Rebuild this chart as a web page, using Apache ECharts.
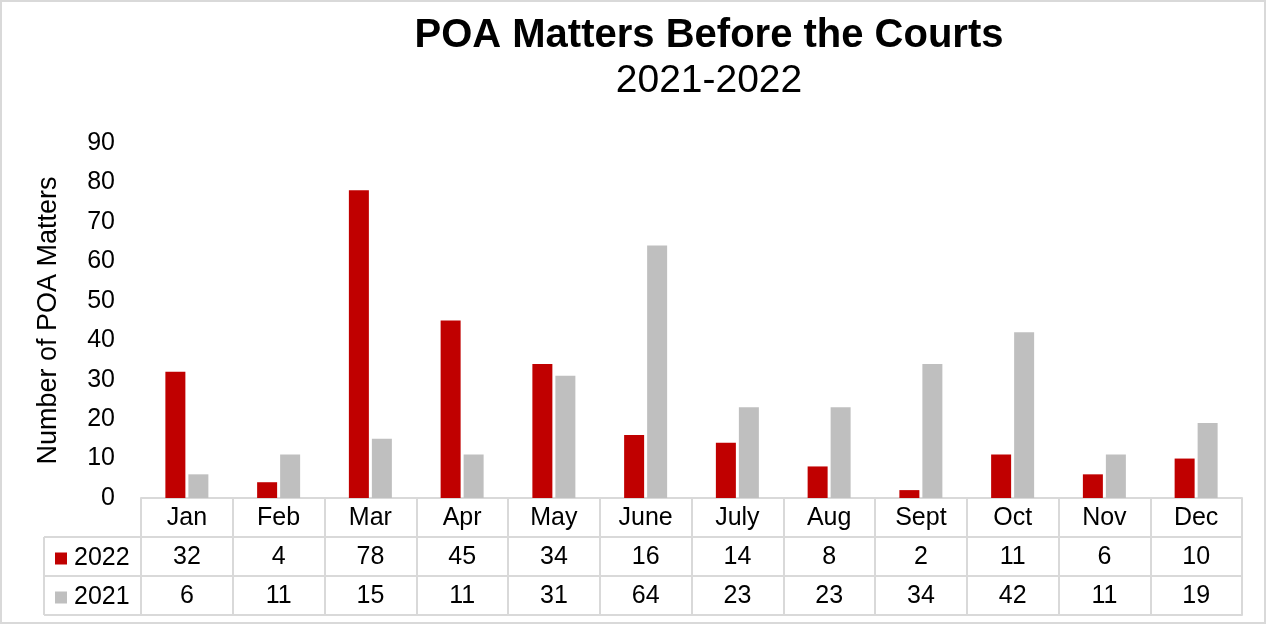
<!DOCTYPE html>
<html>
<head>
<meta charset="utf-8">
<script src="https://cdn.jsdelivr.net/npm/echarts@6/dist/echarts.min.js"></script>
<style>
html,body{margin:0;padding:0;background:#fff;}
#c{width:1269px;height:625px;}
</style>
</head>
<body>
<div id="c"></div>
<script>
const months = ['Jan','Feb','Mar','Apr','May','June','July','Aug','Sept','Oct','Nov','Dec'];
const values2022 = [32,4,78,45,34,16,14,8,2,11,6,10];
const values2021 = [6,11,15,11,31,64,23,23,34,42,11,19];
const seriesNames = ['2022','2021'];
const yTicks = {min:0, max:90, interval:10};
const titleText = 'POA Matters Before the Courts';
const subtitleText = '2021-2022';
const yAxisTitle = 'Number of POA Matters';

const FONT = "'Liberation Sans', Arial, sans-serif";
const LINE = '#D9D9D9';
const gridLeft = 141, gridRight = 27, gridTop = 143, gridBottom = 127;
const rowH = 39;
const W = 1269, H = 625;
const axisBottomY = H - gridBottom;
const tableLeft = 44;
const labelSize = 25;

const chart = echarts.init(document.getElementById('c'), null, {renderer:'canvas'});

function tableAxis(data, offset, showLabel) {
  return {
    type:'category', data:data, position:'bottom', offset:offset,
    axisLine:{show:true, lineStyle:{color:LINE, width:2}},
    axisTick:{show:false},
    axisLabel:{show:showLabel, color:'#000', fontSize:labelSize, fontFamily:FONT, margin:8, interval:0},
    splitLine:{show:false}
  };
}

const option = {
  backgroundColor:'#fff',
  animation:false,
  grid:{left:gridLeft, right:gridRight, top:gridTop, bottom:gridBottom, containLabel:false},
  legend:{
    data:seriesNames, orient:'vertical', left:50, top:axisBottomY + rowH + 4,
    icon:'rect', itemWidth:12, itemHeight:12, itemGap:14,
    textStyle:{color:'#000', fontSize:labelSize, fontFamily:FONT, padding:[0,0,0,2]},
    selectedMode:false
  },
  xAxis:[
    {
      type:'category', data:months, position:'bottom',
      axisLine:{show:true, lineStyle:{color:LINE, width:2}},
      axisTick:{show:true, length:rowH*3, interval:0, lineStyle:{color:LINE, width:2}},
      axisLabel:{color:'#000', fontSize:labelSize, fontFamily:FONT, margin:8, interval:0},
      splitLine:{show:false}
    },
    tableAxis(values2022.map(String), rowH, true),
    tableAxis(values2021.map(String), rowH*2, true),
    tableAxis(months, rowH*3, false)
  ],
  yAxis:{
    type:'value', min:yTicks.min, max:yTicks.max, interval:yTicks.interval,
    axisLine:{show:false}, axisTick:{show:false}, splitLine:{show:false},
    axisLabel:{color:'#000', fontSize:labelSize, fontFamily:FONT, margin:26},
    name:yAxisTitle, nameLocation:'middle', nameRotate:90, nameGap:79,
    nameTextStyle:{color:'#000', fontSize:27, fontFamily:FONT}
  },
  series:[
    {name:seriesNames[0], type:'bar', data:values2022, barWidth:20, barGap:'15%',
     itemStyle:{color:'#C00000'}},
    {name:seriesNames[1], type:'bar', data:values2021, barWidth:20, barGap:'15%',
     itemStyle:{color:'#BFBFBF'}}
  ],
  graphic:[
    {type:'rect', shape:{x:1, y:1, width:W-5, height:H-3}, style:{fill:null, stroke:LINE, lineWidth:2}, silent:true},
    {type:'line', shape:{x1:tableLeft, y1:axisBottomY+rowH, x2:gridLeft, y2:axisBottomY+rowH}, style:{stroke:LINE, lineWidth:2}},
    {type:'line', shape:{x1:tableLeft, y1:axisBottomY+rowH*2, x2:gridLeft, y2:axisBottomY+rowH*2}, style:{stroke:LINE, lineWidth:2}},
    {type:'line', shape:{x1:tableLeft, y1:axisBottomY+rowH*3, x2:gridLeft, y2:axisBottomY+rowH*3}, style:{stroke:LINE, lineWidth:2}},
    {type:'line', shape:{x1:tableLeft, y1:axisBottomY+rowH, x2:tableLeft, y2:axisBottomY+rowH*3}, style:{stroke:LINE, lineWidth:2}},
    {type:'text', x:709, y:16, style:{text:titleText, textAlign:'center', textVerticalAlign:'top', fill:'#000', font:"bold 40px " + FONT}},
    {type:'text', x:709, y:62, style:{text:subtitleText, textAlign:'center', textVerticalAlign:'top', fill:'#000', font:"39px " + FONT}}
  ]
};
chart.setOption(option);
</script>
</body>
</html>
